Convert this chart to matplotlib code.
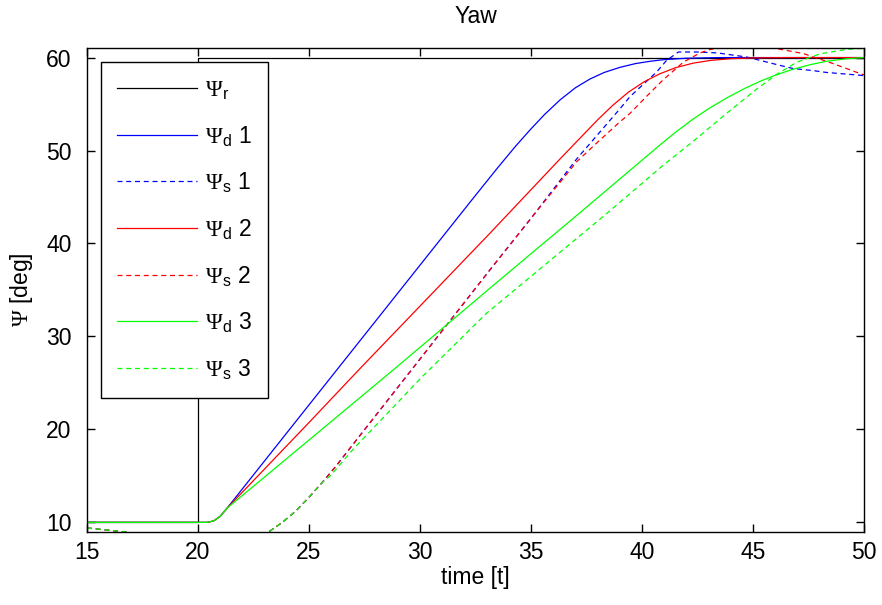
import matplotlib
matplotlib.use("Agg")
import matplotlib.pyplot as plt

plt.rcParams["font.family"] = ["Liberation Sans", "DejaVu Sans"]
plt.rcParams["mathtext.fontset"] = "custom"
plt.rcParams["mathtext.rm"] = "Liberation Serif"
plt.rcParams["mathtext.sf"] = "Liberation Sans"

FS = 16.5

# reference yaw (step at t=20)
t_ref = [15, 20, 20, 50]
psi_ref = [10, 10, 60, 60]

# desired yaw, run 1..3
t_d1 = [15, 20.4, 20.7, 21.0, 21.3, 21.7, 24.47, 32.33, 33.5, 34.3, 34.95, 35.6, 36.31,
        37.0, 37.66, 38.3, 39.01, 39.7, 40.36, 41.0, 42.0, 43.5, 50]
psi_d1 = [10, 10.0, 10.15, 10.65, 11.5, 12.7, 21.04, 44.67, 48.15, 50.45, 52.2, 53.85, 55.45,
          56.75, 57.7, 58.4, 58.95, 59.35, 59.6, 59.78, 59.93, 60.0, 60]

t_d2 = [15, 20.4, 20.7, 21.0, 21.3, 21.7, 25.12, 27.22, 33.15, 36.31, 38.0, 38.7, 39.4,
        40.1, 40.8, 41.5, 42.3, 43.1, 44.0, 45.0, 46.5, 50]
psi_d2 = [10, 10.0, 10.15, 10.65, 11.5, 12.5, 21.04, 26.35, 41.1, 49.1, 53.3, 54.9, 56.3,
          57.4, 58.25, 58.9, 59.4, 59.7, 59.88, 59.96, 60.0, 60]

t_d3 = [15, 20.4, 20.7, 21.0, 21.3, 21.7, 26.1, 28.8, 31.2, 33.15, 37.2, 40.81, 41.5,
        42.31, 43.0, 43.81, 44.6, 45.32, 46.0, 46.81, 47.6, 48.31, 49.2, 50]
psi_d3 = [10, 10.0, 10.15, 10.65, 11.5, 12.3, 21.04, 26.41, 31.25, 35.19, 43.3, 50.6, 51.95,
          53.4, 54.5, 55.65, 56.65, 57.45, 58.1, 58.75, 59.25, 59.6, 59.87, 60]

# simulated yaw, run 1..3
t_s1 = [15, 16.0, 16.6, 17.5, 19.0, 21.0, 22.3, 23.2, 23.8, 24.4, 25.0, 25.6, 26.2, 27.15,
        29.62, 33.15, 35.03, 37.06, 39.01, 39.46, 40.66, 41.11, 41.64, 42.5, 43.4, 44.71,
        46.2, 46.81, 47.7, 48.31, 49.82, 50]
psi_s1 = [9.4, 9.15, 9.0, 8.75, 8.4, 8.2, 8.4, 9.0, 10.0, 11.2, 12.7, 14.3, 16.0, 18.9,
          26.41, 37.16, 42.8, 49.1, 54.5, 55.8, 58.45, 59.7, 60.6, 60.6, 60.5, 60.06,
          59.17, 58.82, 58.6, 58.4, 58.1, 58.05]

t_s2 = [15, 16.0, 16.6, 17.5, 19.0, 21.0, 22.3, 23.2, 23.8, 24.4, 25.0, 25.6, 26.2, 27.15,
        29.62, 33.15, 35.5, 37.06, 38.0, 39.01, 39.46, 40.36, 40.95, 41.86, 42.61, 43.06,
        43.5, 44.5, 45.5, 46.07, 47.27, 48.6, 49.82, 50]
psi_s2 = [9.4, 9.15, 9.0, 8.75, 8.4, 8.2, 8.4, 9.0, 10.0, 11.2, 12.7, 14.3, 16.0, 18.9,
          26.41, 37.16, 44.2, 48.8, 50.9, 53.1, 54.0, 56.2, 57.6, 59.5, 60.5, 60.86,
          61.1, 61.35, 61.25, 60.97, 60.43, 59.36, 58.28, 58.15]

t_s3 = [15, 16.0, 16.6, 17.5, 19.0, 21.0, 22.3, 23.2, 23.8, 24.4, 25.0, 25.6, 26.0, 27.0,
        28.0, 29.0, 30.07, 33.0, 38.33, 40.96, 42.31, 43.81, 45.16, 46.07, 46.97, 48.02,
        49.22, 50]
psi_s3 = [9.4, 9.15, 9.0, 8.75, 8.4, 8.2, 8.4, 9.0, 10.0, 11.2, 12.7, 14.3, 15.1, 17.9,
          20.4, 22.9, 25.6, 32.5, 43.06, 48.43, 51.0, 54.0, 56.6, 58.2, 59.5, 60.4,
          60.88, 61.0]

series = [
    (t_ref, psi_ref, "k", "-", r"$\Psi_{\mathsf{r}}$"),
    (t_d1, psi_d1, "#0000ff", "-", r"$\Psi_{\mathsf{d}}$ 1"),
    (t_s1, psi_s1, "#0000ff", "--", r"$\Psi_{\mathsf{s}}$ 1"),
    (t_d2, psi_d2, "#ff0000", "-", r"$\Psi_{\mathsf{d}}$ 2"),
    (t_s2, psi_s2, "#ff0000", "--", r"$\Psi_{\mathsf{s}}$ 2"),
    (t_d3, psi_d3, "#00ff00", "-", r"$\Psi_{\mathsf{d}}$ 3"),
    (t_s3, psi_s3, "#00ff00", "--", r"$\Psi_{\mathsf{s}}$ 3"),
]

fig = plt.figure(figsize=(8.82, 6.05), dpi=100)
ax = fig.add_axes([0.0986, 0.1212, 0.881, 0.799])
for t, psi, c, ls, lab in series:
    ln, = ax.plot(t, psi, color=c, ls=ls, lw=0.9, label=lab)
    if ls == "--":
        ln.set_dashes((4, 3))

ax.set_xlim(15, 50)
ax.set_ylim(9, 61)
ax.set_xticks([15, 20, 25, 30, 35, 40, 45, 50])
ax.set_yticks([10, 20, 30, 40, 50, 60])
ax.tick_params(direction="in", top=True, right=True, length=6, width=1, labelsize=FS)
ax.tick_params(axis="x", pad=7)
ax.tick_params(axis="y", pad=11)
for s in ax.spines.values():
    s.set_linewidth(1.0)

ax.set_title("Yaw", fontsize=FS, pad=18)
ax.set_xlabel("time [t]", fontsize=FS, labelpad=1)
ax.set_ylabel(r"$\Psi$ [deg]", fontsize=FS, labelpad=8)

leg = ax.legend(loc="upper left", fontsize=FS, fancybox=False, framealpha=1,
                edgecolor="k", handlelength=3.5, handletextpad=0.35,
                labelspacing=0.95, borderpad=0.7, borderaxespad=0.6)
leg.get_frame().set_linewidth(1.0)

fig.savefig("out.png", dpi=100)
